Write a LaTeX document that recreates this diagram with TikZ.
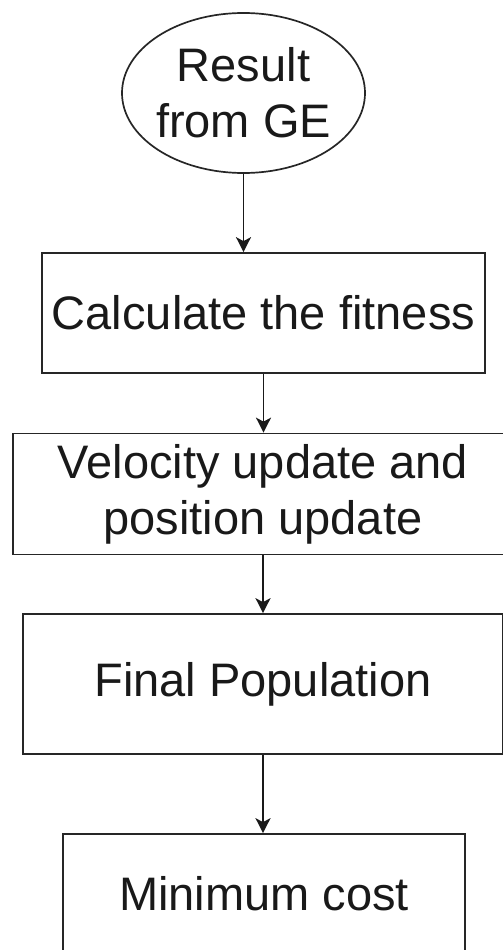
\documentclass[tikz,border=0pt]{standalone}
\usepackage{fontspec}
\setmainfont{Liberation Sans}
\usetikzlibrary{arrows.meta,shapes.geometric}
\begin{document}
\begin{tikzpicture}[x=1pt,y=-1pt,
  txt/.style={font=\fontsize{47}{56}\selectfont, text=black!90, align=center, inner sep=0pt},
  stepbox/.style={txt, rectangle, draw=black!85, line width=1.7pt},
  startnode/.style={ellipse, draw=black!85, line width=1.7pt, inner sep=0pt},
  flow/.style={-{Stealth[length=15pt,width=15pt,inset=4pt]}, line width=1.9pt, draw=black!90}]
\useasboundingbox (0,0) rectangle (503,950);
\clip (0,0) rectangle (503,950);

% start oval with its two-line caption
\node[startnode, minimum width=243pt, minimum height=160pt] (ge) at (243.5,93) {};
\node[txt] (getext) at (ge.center) {Result\\from GE};

% process steps
\node[stepbox, minimum width=443pt, minimum height=120pt] (fit) at (263.5,313) {Calculate the fitness};
\node[stepbox, minimum width=500pt, minimum height=121pt] (vel) at (263,494) {Velocity update and\\position update};
\node[stepbox, minimum width=480pt, minimum height=140pt] (pop) at (263,684) {Final Population};
\node[stepbox, minimum width=402pt, minimum height=120pt] (cost) at (264,894) {Minimum cost};

% connectors
\draw[flow] (ge.south) -- (ge.south |- fit.north);
\draw[flow] (fit.south) -- (fit.south |- vel.north);
\draw[flow] (vel.south) -- (vel.south |- pop.north);
\draw[flow] (pop.south) -- (pop.south |- cost.north);
\end{tikzpicture}
\end{document}
